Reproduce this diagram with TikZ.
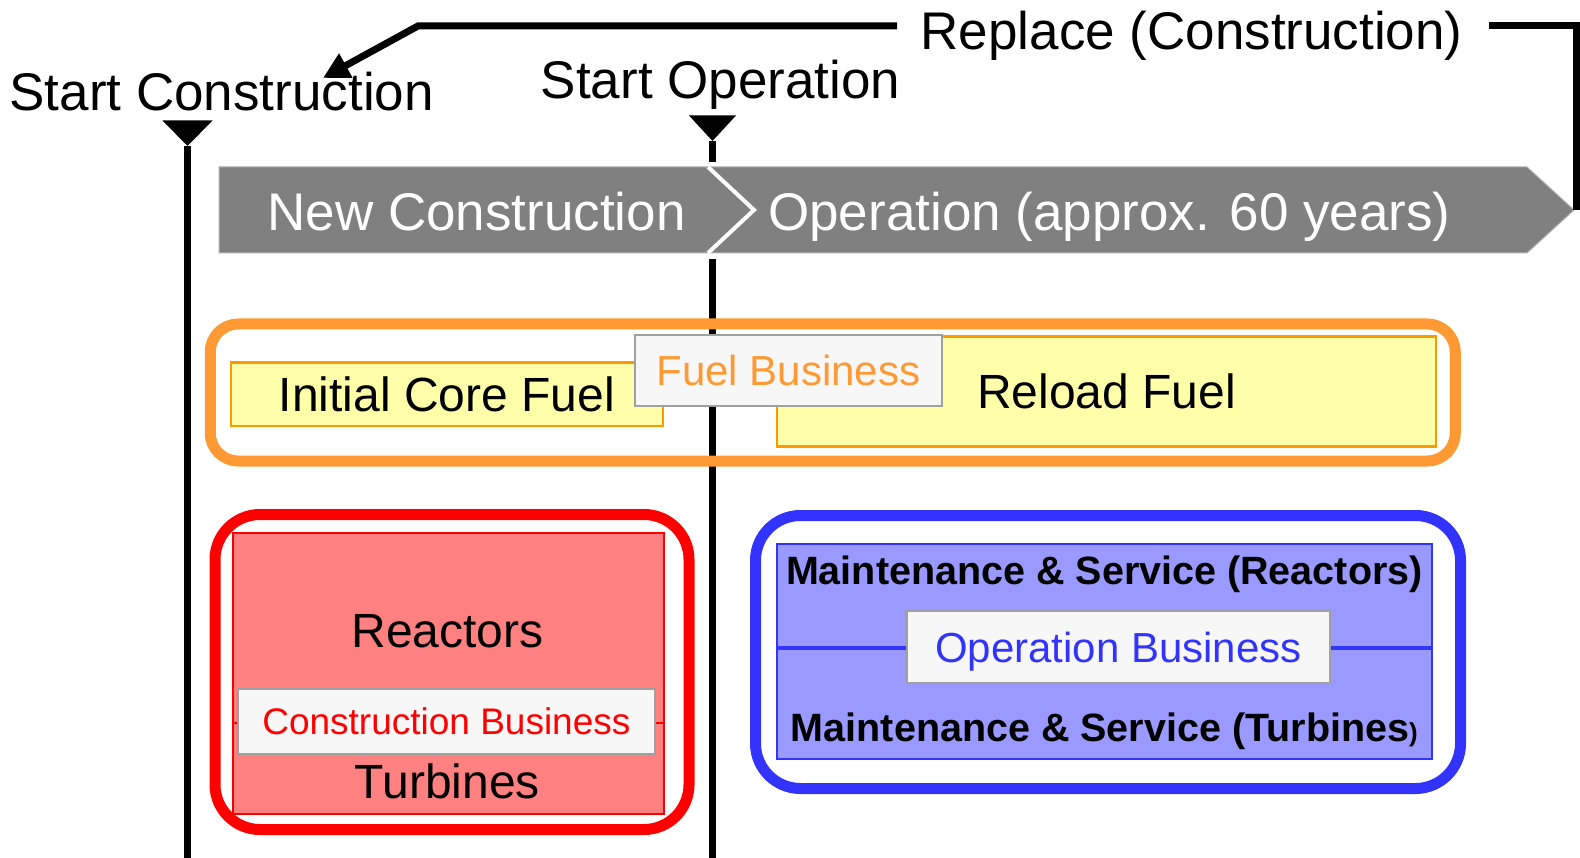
\documentclass[tikz,border=0pt]{standalone}
\usepackage{fontspec}
\setmainfont{Liberation Sans}
\usetikzlibrary{arrows.meta}
\definecolor{bandgray}{HTML}{808080}
\definecolor{orng}{HTML}{FF9933}
\definecolor{orng2}{HTML}{FF9900}
\definecolor{yel}{HTML}{FFFFAA}
\definecolor{salmon}{HTML}{FF8080}
\definecolor{blu}{HTML}{3333FF}
\definecolor{blufill}{HTML}{9999FF}
\definecolor{lblfill}{HTML}{F7F7F7}
\definecolor{lblline}{HTML}{A0A0A0}
\begin{document}
\begin{tikzpicture}[x=1pt,y=-1pt,
  big/.style={font=\fontsize{53}{60}\selectfont, inner sep=0pt, text height=38pt, text depth=0pt},
  mid/.style={font=\fontsize{48}{56}\selectfont, inner sep=0pt, text height=34.4pt, text depth=0pt},
  bld/.style={font=\fontsize{39.5}{46}\selectfont\bfseries, inner sep=0pt, text height=28.3pt, text depth=0pt},
  lbl/.style={draw=lblline, fill=lblfill, line width=2pt, inner sep=0pt, font=\fontsize{42}{50}\selectfont, text height=30pt, text depth=0pt},
  tl/.style={line width=7pt, black},
  grp/.style={line width=11pt, inner sep=0pt},
  fuelbox/.style={draw=orng2, fill=yel, line width=2.5pt, inner sep=0pt},
]
\useasboundingbox (0,0) rectangle (1580,858);

% timeline markers
\coordinate (scA) at (162.5,120.5); \coordinate (scB) at (212.5,120.5); \coordinate (scC) at (187.5,146);
\coordinate (scBot) at (187.5,858);
\coordinate (soA) at (689,115.5); \coordinate (soB) at (736,115.5); \coordinate (soC) at (712.5,141);
\coordinate (soMid) at (712.5,162); \coordinate (soLow) at (712.5,259); \coordinate (soBot) at (712.5,858);
\fill (scA) -- (scB) -- (scC) -- cycle;
\fill (soA) -- (soB) -- (soC) -- cycle;
\draw[tl] (scC) -- (scBot);
\draw[tl] (soC) -- (soMid);
\draw[tl] (soLow) -- (soBot);

% labels on top
\node[big] (stc) at (221.7,91.7) {Start Construction};
\node[big] (sto) at (720.5,79.8) {Start Operation};
\node[big] (rep) at (1191.6,31) {Replace (Construction)};

% band
\coordinate (bandtip) at (1574,210);
\fill[bandgray, draw=gray!60, line width=1pt] (219,167) -- (1527,167) -- (bandtip) -- (1527,253) -- (219,253) -- cycle;
\draw[white, line width=4pt] (708,167) -- (754,210) -- (708,253);
\node[big, text=white] (newc) at (476.6,211.5) {New Construction};
\node[big, text=white] (oper) at (1109.5,211.5) {Operation (approx. 60 years)};

% replace bracket
\coordinate (bl) at (897,26); \coordinate (bc) at (418,26); \coordinate (bt) at (323,78);
\coordinate (br) at (1489,26); \coordinate (brc) at (1576,26); \coordinate (brd) at (1576,210);
\draw[tl, line join=miter] (br) -- (brc) -- (brd);
\draw[tl, line join=miter, -{Triangle[length=26pt,width=26pt]}] (bl) -- (bc) -- (bt);

% fuel group
\node[grp, draw=orng, rounded corners=28pt, minimum width=1245pt, minimum height=137pt] (fuelgrp) at (832.75,392.5) {};
\node[fuelbox, minimum width=432pt, minimum height=63.5pt, mid] (icf) at (447,394.5) {Initial Core Fuel};
\node[fuelbox, minimum width=659pt, minimum height=110pt, mid] (rel) at (1106.5,391.5) {Reload Fuel};
\node[lbl, text=orng, minimum width=307pt, minimum height=71.5pt] (fb) at (788.5,370.3) {Fuel Business};

% construction group
\node[grp, draw=red, rounded corners=45pt, minimum width=474pt, minimum height=315pt] (redgrp) at (452,672) {};
\node[draw=red, fill=salmon, line width=2pt, inner sep=0pt, minimum width=431.2pt, minimum height=281.2pt] (redin) at (448.4,673.6) {};
\node[mid, text height=34pt] (reac) at (447.4,630.8) {Reactors};
\node[mid, text height=34pt] (turb) at (447.4,781) {Turbines};
\coordinate (cbc) at (446.4,722.5);
\draw[red, line width=2pt] (redin.west |- cbc) -- (redin.east |- cbc);
\node[lbl, text=red, font=\fontsize{37}{44}\selectfont, text height=26.5pt, minimum width=417pt, minimum height=64.5pt] (cb) at (446.4,721.5) {Construction Business};

% operation group
\node[grp, draw=blu, rounded corners=45pt, minimum width=705pt, minimum height=273pt] (blugrp) at (1108,652) {};
\node[draw=blu, fill=blufill, line width=2pt, inner sep=0pt, minimum width=655pt, minimum height=214.6pt] (bluin) at (1104.5,651.5) {};
\coordinate (obc) at (1118.5,648);
\draw[blu, line width=4pt] (bluin.west |- obc) -- (bluin.east |- obc);
\node[bld] (msr) at (1104.4,570) {Maintenance \& Service (Reactors)};
\node[bld] (mst) at (1104.4,727.5) {Maintenance \& Service (Turbines{\fontsize{26}{30}\selectfont)}};
\node[lbl, text=blu, minimum width=423pt, minimum height=72.5pt] (ob) at (1118.5,647) {Operation Business};
\end{tikzpicture}
\end{document}
